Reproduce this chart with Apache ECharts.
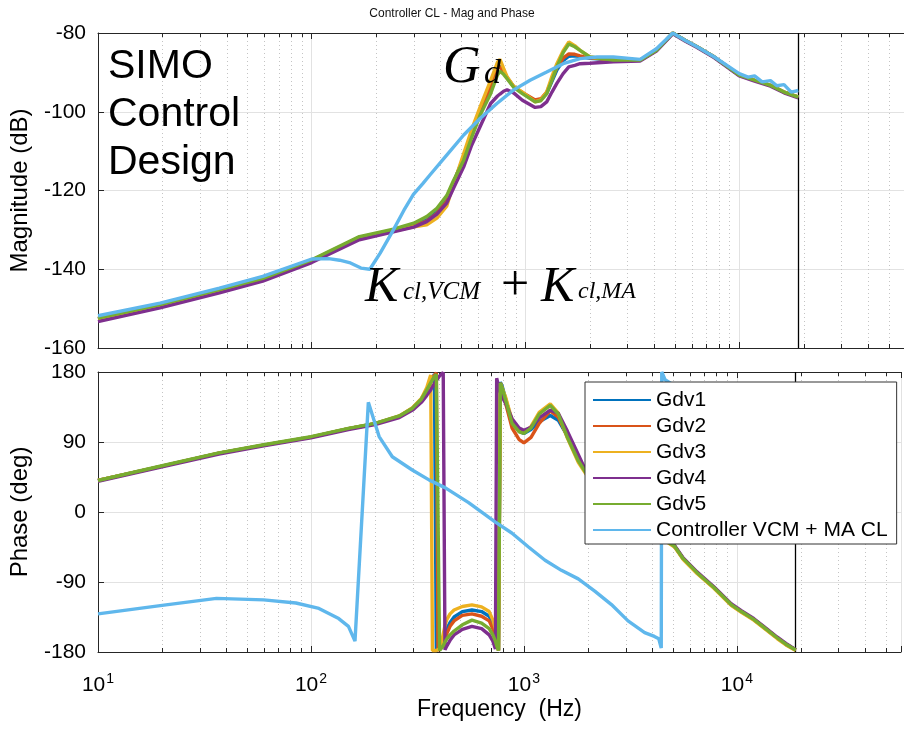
<!DOCTYPE html>
<html><head><meta charset="utf-8">
<script src="https://cdn.jsdelivr.net/npm/echarts@6/dist/echarts.min.js"></script>
<style>html,body{margin:0;padding:0;background:#fff}#c{width:904px;height:729px}</style>
</head><body><div id="c"></div>
<script>
// ---------- data ----------
const seriesNames = ['Gdv1', 'Gdv2', 'Gdv3', 'Gdv4', 'Gdv5', 'Controller VCM + MA CL'];

const gdMagFreq = [10, 19.5, 37, 59, 100, 167, 241, 300, 345, 385, 428, 460, 514, 560, 613, 687, 740, 760, 790, 820, 880, 967, 1109, 1180, 1257, 1330, 1402, 1500, 1595, 1700, 1800, 2000, 2577, 3436, 4100, 4890, 5600, 6350, 7650, 10000, 11800, 14000, 16200, 18900];
const magGdv1 = [-152.6, -149.2, -145.4, -142.5, -137.8, -131.9, -130.0, -128.8, -127.5, -125.5, -122.5, -118.0, -111.5, -105.5, -99.8, -93.5, -88.9, -88.4, -89.6, -91.3, -93.6, -95.2, -97.2, -96.9, -95.3, -92.3, -89.4, -87.0, -85.9, -85.8, -86.0, -86.4, -86.9, -86.9, -84.4, -80.0, -81.9, -83.5, -86.1, -90.7, -92.0, -93.3, -95.0, -96.3];
const magGdv2 = [-152.6, -149.2, -145.4, -142.5, -137.8, -131.9, -130.1, -129.0, -127.8, -125.8, -122.8, -118.2, -111.6, -105.6, -99.9, -93.6, -89.0, -88.6, -89.8, -91.4, -93.6, -95.1, -97.0, -96.7, -95.0, -91.8, -88.8, -86.4, -85.3, -85.4, -85.8, -86.3, -86.9, -86.9, -84.4, -80.0, -81.9, -83.5, -86.1, -90.7, -92.0, -93.3, -95.0, -96.3];
const magGdv3 = [-152.6, -149.2, -145.5, -142.5, -137.8, -132.0, -130.3, -129.2, -128.7, -127.0, -124.0, -118.5, -110.6, -104.5, -98.8, -92.0, -87.4, -86.7, -89.0, -91.1, -93.5, -95.0, -97.5, -97.0, -95.0, -91.0, -87.8, -84.5, -82.3, -83.2, -84.4, -86.1, -86.9, -86.9, -84.4, -80.0, -81.9, -83.5, -86.1, -90.7, -92.0, -93.3, -95.0, -96.3];
const magGdv4 = [-153.3, -149.8, -146.0, -143.0, -138.3, -132.5, -130.5, -129.3, -127.9, -126.0, -123.2, -119.5, -114.0, -108.5, -103.8, -97.9, -96.0, -95.5, -94.8, -94.4, -95.2, -97.1, -98.9, -98.7, -97.5, -95.0, -92.8, -90.3, -88.6, -88.2, -87.8, -87.7, -87.3, -87.1, -84.6, -80.2, -82.1, -83.7, -86.3, -90.9, -92.2, -93.5, -95.2, -96.5];
const magGdv5 = [-152.4, -149.0, -145.2, -142.3, -137.6, -131.7, -129.8, -128.3, -126.6, -124.5, -121.3, -117.5, -112.3, -106.5, -100.9, -95.4, -90.6, -89.7, -90.5, -91.6, -93.8, -95.4, -97.5, -97.2, -95.4, -92.0, -88.6, -85.0, -82.8, -83.5, -84.4, -86.1, -86.9, -86.9, -84.4, -80.0, -81.9, -83.5, -86.1, -90.7, -92.0, -93.3, -95.0, -96.3];

const ctrlMagFreq = [10, 19.5, 37, 59, 100, 120, 135, 150, 170, 187, 209, 241, 270, 299, 330, 358, 428, 514, 613, 735, 877, 1051, 1257, 1500, 1800, 2159, 2577, 3436, 4100, 4890, 5600, 6350, 7650, 10000, 11000, 11800, 12800, 14000, 15000, 16200, 17500, 18900];
const ctrlMag = [-151.8, -148.6, -144.8, -141.8, -137.4, -137.3, -137.7, -138.3, -139.7, -140.0, -135.9, -130.0, -125.0, -121.0, -118.3, -116.0, -111.0, -105.9, -101.7, -97.9, -94.5, -92.0, -89.9, -87.8, -86.5, -86.1, -86.1, -86.7, -84.0, -80.0, -81.9, -83.5, -86.1, -90.3, -91.2, -90.9, -92.4, -92.1, -93.4, -93.1, -95.0, -94.6];

const phFreq = [10, 20, 37, 60, 100, 150, 200, 260, 300, 330, 350, 365, 372, 380, 388, 395, 402, 410, 418, 426, 435, 450, 470, 514, 570, 633, 687, 715, 735, 745, 760, 775, 790, 820, 880, 950, 1000, 1080, 1180, 1330, 1450, 1600, 1800, 2000, 2500, 3200, 4000, 4600, 5100, 5600, 6500, 7800, 9400, 10500, 12000, 13500, 15500, 17000, 18900];
const phGdv1 = [40.5, 59, 75.7, 86, 96.3, 107, 113.5, 123, 133.5, 145, 157, 167, 172, 177, -178, -177, -175, -171, -166, -158, -150, -142, -135, -128, -126, -128, -134, -144, -155, -165, -178, 167, 162, 146, 116, 104, 101, 106, 116, 124, 118, 98, 68, 46, 16, -8, -22, -36, -44, -60, -78, -97, -119, -128, -138, -149, -162, -170, -177.5];
const phGdv2 = [40.5, 59, 75.7, 86, 96.3, 107, 113.5, 123, 133.5, 145, 157, 167, 172, 176, 179, -178, -177, -174, -170, -163, -156, -147, -140, -133, -131, -134, -140, -150, -160, -168, -178, 166, 160, 140, 108, 93, 89, 96, 114, 130, 122, 97, 67, 46, 16, -8, -22, -36, -44, -60, -78, -97, -119, -128, -138, -149, -162, -170, -177.5];
const phGdv3 = [40.5, 59, 75.7, 86, 96.3, 107, 113.5, 123.5, 134, 146, 160, 176, -178, -177.5, -178, -178, -176, -168, -157, -146, -138, -131, -126, -121.5, -119.5, -122, -128, -139, -150, -161, -178, 165, 163, 148, 118, 104, 102, 110, 128, 139, 127, 95, 64, 45, 15, -9, -23, -37, -45, -61, -79, -98, -120, -129, -139, -150, -163, -171, -178];
const phGdv4 = [39.5, 58, 74.5, 85, 95.5, 106, 112.5, 121.5, 131, 141, 150, 157, 161, 165, 169, 172, 175, 177.5, 179.5, -177, -172, -165, -158, -151, -147, -150, -158, -166, -176, 172, 162, 154, 148, 140, 120, 108, 105, 109, 121, 131, 127, 104, 74, 47, 17, -7, -21, -35, -43, -59, -77, -96, -118, -127, -137, -148, -161, -169, -177];
const phGdv5 = [40.5, 59.5, 76, 86.5, 96.8, 107.5, 114, 123.5, 133.5, 145, 157, 166, 170, 174, 177, 179.5, -178, -175, -172, -167, -163, -158, -153, -145, -139, -143, -150, -158, -166, -172, -178, 166, 160, 144, 114, 103, 101, 108, 126, 137, 126, 96, 66, 46, 16, -8, -22, -36, -44, -60, -78, -97, -119, -128, -138, -149, -162, -170, -177.5];

const ctrlPhFreq = [10, 20, 36, 60, 85, 109, 135, 150, 161, 186, 209, 241, 299, 360, 428, 550, 735, 877, 1051, 1257, 1500, 1800, 2159, 2577, 3083, 3690, 4100, 4300, 4416, 4440, 4600, 6000, 9000, 13000, 18900];
const ctrlPh = [-131, -120, -111, -113, -117, -124, -137, -147, -166, 141, 97, 71, 54, 41, 31, 12, -13, -27, -45, -62, -75, -86, -102, -119, -140, -155, -160, -163, -175, 180, 170, 150, 120, 100, 85];

const minorTicks = [20, 30, 40, 50, 60, 70, 80, 90, 200, 300, 400, 500, 600, 700, 800, 900, 2000, 3000, 4000, 5000, 6000, 7000, 8000, 9000, 20000, 30000, 40000, 50000];
const xlineFreq = 18900;
const magTicks = [-160, -80, 20];   // min, max, step
const phaseTicks = [-180, 180, 90]; // min, max, step
const freqRange = [10, 59000];

// ---------- styling ----------
const colors = ['#0072BD', '#D95319', '#EDB120', '#7E2F8E', '#77AC30', '#5FB7EC'];
const FONT = '"Liberation Sans", Arial, Helvetica, sans-serif';
const SERIF = '"Liberation Serif", "Times New Roman", serif';
const AX = '#262626';
const LW = 3.4;

function pairs(fs, vs) { return fs.map((f, i) => [f, vs[i]]); }

function decor(params, api) {
  const cs = params.coordSys;
  const x = Math.round(api.coord([api.value(0), api.value(1)])[0]) + 0.5;
  const y0 = cs.y, y1 = cs.y + cs.height;
  return { type: 'group', children: [
    { type: 'line', shape: { x1: x, y1: y0, x2: x, y2: y1 }, style: { stroke: '#c4c4c4', lineWidth: 1, lineDash: [1, 3] } },
    { type: 'line', shape: { x1: x, y1: y1, x2: x, y2: y1 - 4 }, style: { stroke: AX, lineWidth: 1 } },
    { type: 'line', shape: { x1: x, y1: y0, x2: x, y2: y0 + 4 }, style: { stroke: AX, lineWidth: 1 } }
  ]};
}

function xAxisBase(gridIndex, pos, labels) {
  return {
    type: 'log', logBase: 10, gridIndex: gridIndex, position: pos,
    min: freqRange[0], max: freqRange[1],
    axisLine: { show: true, onZero: false, lineStyle: { color: AX, width: 1 } },
    axisTick: { show: true, inside: true, length: 6, lineStyle: { color: AX } },
    splitLine: { show: pos === 'bottom', lineStyle: { color: '#e2e2e2', width: 1 } },
    axisLabel: labels ? {
      show: true, margin: 20, color: '#000',
      formatter: function (v) {
        const e = Math.log10(v);
        if (Math.abs(e - Math.round(e)) > 1e-6) return '';
        return '{b|10}{s|' + Math.round(e) + '}';
      },
      rich: {
        b: { fontSize: 21, fontFamily: FONT, color: '#000' },
        s: { fontSize: 14, fontFamily: FONT, color: '#000', padding: [0, 0, 12, 1] }
      }
    } : { show: false }
  };
}

function yAxisBase(gridIndex, ticks, name, gap) {
  return {
    type: 'value', gridIndex: gridIndex, min: ticks[0], max: ticks[1], interval: ticks[2],
    name: name, nameLocation: 'middle', nameGap: gap,
    nameTextStyle: { fontSize: 24, fontFamily: FONT, color: '#000' },
    axisLine: { show: true, onZero: false, lineStyle: { color: AX, width: 1 } },
    axisTick: { show: true, inside: true, length: 6, lineStyle: { color: AX } },
    splitLine: { show: true, lineStyle: { color: '#e2e2e2', width: 1 } },
    axisLabel: { fontSize: 21, fontFamily: FONT, color: '#000', margin: 12 }
  };
}

const magSets = [magGdv1, magGdv2, magGdv3, magGdv4, magGdv5];
const phSets = [phGdv1, phGdv2, phGdv3, phGdv4, phGdv5];

const series = [];
[0, 2].forEach((xi, k) => {
  series.push({
    type: 'custom', xAxisIndex: xi, yAxisIndex: k, silent: true, z: 1,
    renderItem: decor,
    data: minorTicks.map(f => [f, k === 0 ? magTicks[0] : phaseTicks[0]]),
    markLine: {
      silent: true, symbol: 'none', label: { show: false },
      lineStyle: { color: '#000', width: 1.3, type: 'solid' },
      data: [{ xAxis: xlineFreq }]
    }
  });
});
magSets.forEach((vals, i) => {
  series.push({ name: seriesNames[i], type: 'line', xAxisIndex: 0, yAxisIndex: 0, showSymbol: false,
    lineStyle: { width: LW, color: colors[i] }, itemStyle: { color: colors[i] }, z: 3 + i,
    data: pairs(gdMagFreq, vals) });
});
series.push({ name: seriesNames[5], type: 'line', xAxisIndex: 0, yAxisIndex: 0, showSymbol: false,
  lineStyle: { width: LW, color: colors[5] }, itemStyle: { color: colors[5] }, z: 9,
  data: pairs(ctrlMagFreq, ctrlMag) });
phSets.forEach((vals, i) => {
  series.push({ name: seriesNames[i], type: 'line', xAxisIndex: 2, yAxisIndex: 1, showSymbol: false,
    lineStyle: { width: LW, color: colors[i] }, itemStyle: { color: colors[i] }, z: 3 + i,
    data: pairs(phFreq, vals) });
});
series.push({ name: seriesNames[5], type: 'line', xAxisIndex: 2, yAxisIndex: 1, showSymbol: false,
  lineStyle: { width: LW, color: colors[5] }, itemStyle: { color: colors[5] }, z: 9,
  data: pairs(ctrlPhFreq, ctrlPh) });

const option = {
  animation: false,
  backgroundColor: '#fff',
  color: colors,
  title: { text: 'Controller CL - Mag and Phase', left: 'center', top: 3,
    textStyle: { fontSize: 12, fontWeight: 'normal', color: '#111', fontFamily: FONT } },
  grid: [
    { left: 98, top: 33, width: 806, height: 315 },
    { left: 98, top: 372, width: 806, height: 280 }
  ],
  xAxis: [
    xAxisBase(0, 'bottom', false),
    xAxisBase(0, 'top', false),
    Object.assign(xAxisBase(1, 'bottom', true), { name: 'Frequency  (Hz)', nameLocation: 'middle', nameGap: 46,
      nameTextStyle: { fontSize: 23, fontFamily: FONT, color: '#000' } }),
    xAxisBase(1, 'top', false)
  ],
  yAxis: [
    yAxisBase(0, magTicks, 'Magnitude (dB)', 66),
    yAxisBase(1, phaseTicks, 'Phase (deg)', 66)
  ],
  legend: {
    data: seriesNames, left: 585, top: 382, orient: 'vertical', selectedMode: false, z: 50,
    icon: 'rect', itemWidth: 58, itemHeight: 2, itemGap: 4,
    backgroundColor: '#fff', borderColor: '#333', borderWidth: 1, borderRadius: 0,
    padding: [7, 9, 3, 8],
    textStyle: { fontSize: 21, fontFamily: FONT, color: '#000', lineHeight: 22 }
  },
  graphic: [
    { type: 'text', left: 108, top: 43, z: 100,
      style: { text: 'SIMO\nControl\nDesign', font: '41px ' + FONT, lineHeight: 48, fill: '#000' } },
    { type: 'text', left: 443, top: 42, z: 100, style: { text: 'G', font: 'italic 52px ' + SERIF, fill: '#000' } },
    { type: 'text', left: 484, top: 57, z: 100, style: { text: 'd', font: 'italic 34px ' + SERIF, fill: '#000' } },
    { type: 'text', left: 365, top: 263, z: 100, style: { text: 'K', font: 'italic 50px ' + SERIF, fill: '#000' } },
    { type: 'text', left: 403, top: 280, z: 100, style: { text: 'cl,VCM', font: 'italic 25px ' + SERIF, fill: '#000' } },
    { type: 'text', left: 501, top: 262, z: 100, style: { text: '+', font: '50px ' + SERIF, fill: '#000' } },
    { type: 'text', left: 541, top: 263, z: 100, style: { text: 'K', font: 'italic 50px ' + SERIF, fill: '#000' } },
    { type: 'text', left: 578, top: 280, z: 100, style: { text: 'cl,MA', font: 'italic 24px ' + SERIF, fill: '#000' } }
  ],
  series: series
};

const chart = echarts.init(document.getElementById('c'), null, { renderer: 'canvas' });
chart.setOption(option);
</script></body></html>
